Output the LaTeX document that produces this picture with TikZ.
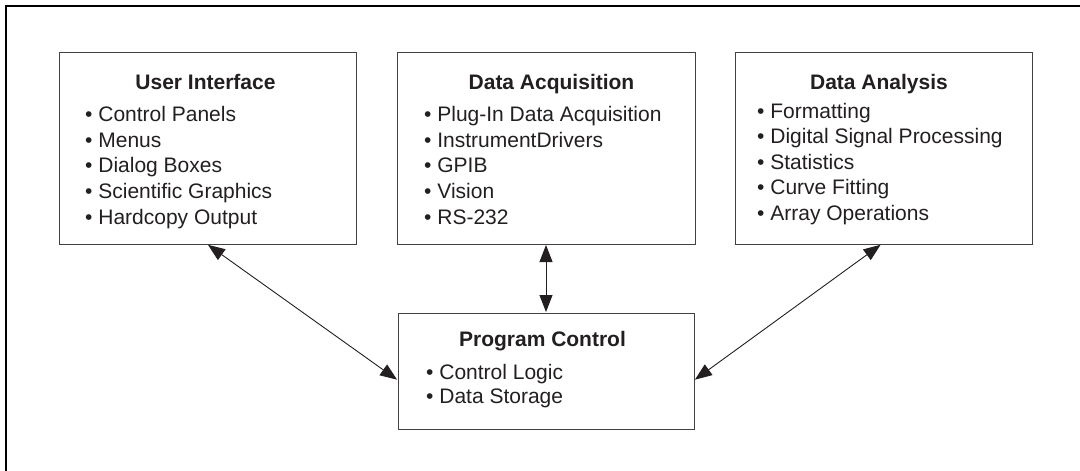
\documentclass[tikz,border=0pt]{standalone}
\usepackage{fontspec}
\setmainfont{Liberation Sans}
\usetikzlibrary{arrows.meta}
\definecolor{ink}{HTML}{231F20}
\tikzset{
  box/.style={draw=ink!85, line width=1pt, inner sep=0pt},
  title/.style={font=\fontsize{21}{25}\selectfont\bfseries, text=ink, inner sep=0pt, anchor=base},
  item/.style={font=\fontsize{21}{25}\selectfont, text=ink, inner sep=0pt, anchor=base west},
  link/.style={draw=ink, line width=0.9pt, {Triangle[length=17pt,width=13pt]}-{Triangle[length=17pt,width=13pt]}, shorten <=0.5pt, shorten >=0.5pt}
}
\begin{document}
\begin{tikzpicture}[x=1pt,y=-1pt]
\useasboundingbox (0,0) rectangle (1080,471);
% frame (top and left edges visible)
\draw[line width=2.2pt, black] (6,471) -- (6,6) -- (1080,6);
% boxes
\node[box, minimum width=297pt, minimum height=192pt] (ui) at (207.5,148) {};
\node[box, minimum width=298pt, minimum height=192pt] (daq) at (546,148) {};
\node[box, minimum width=297pt, minimum height=192pt] (dan) at (883.5,148) {};
\node[box, minimum width=296pt, minimum height=116pt] (pc) at (546,371) {};
% titles
\node[title] (uit) at (205.5,89) {User Interface};
\node[title] (daqt) at (551.5,89) {Data Acquisition};
\node[title] (dant) at (879,89) {Data Analysis};
\node[title] (pct) at (542.5,346.7) {Program Control};
% items
\foreach \t [count=\i] in {Control Panels, Menus, Dialog Boxes, Scientific Graphics, Hardcopy Output}
  \node[item] (ui\i) at (85,{121.7+25.6*(\i-1)}) {• \t};
\foreach \t [count=\i] in {Plug-In Data Acquisition, InstrumentDrivers, GPIB, Vision, RS-232}
  \node[item] (daq\i) at (424,{121.7+25.6*(\i-1)}) {• \t};
\foreach \t [count=\i] in {Formatting, Digital Signal Processing, Statistics, Curve Fitting, Array Operations}
  \node[item] (dan\i) at (757,{118.3+25.5*(\i-1)}) {• \t};
\foreach \t [count=\i] in {Control Logic, Data Storage}
  \node[item] (pc\i) at (426,{379+24*(\i-1)}) {• \t};
% connectors
\draw[link] (ui.south) -- ([yshift=-9pt]pc.west);
\draw[link] (daq.south) -- (pc.north);
\draw[link] ([xshift=-2.5pt]dan.south) -- ([yshift=-9pt]pc.east);
\end{tikzpicture}
\end{document}
